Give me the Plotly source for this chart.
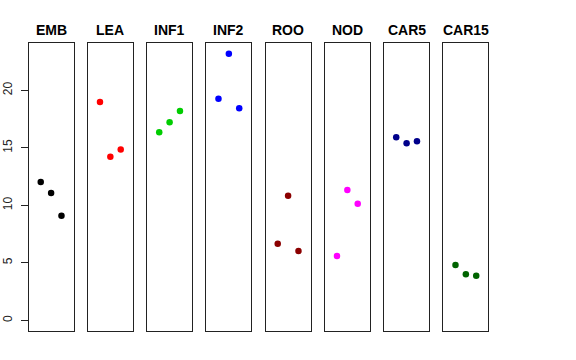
import plotly.graph_objects as go

categories = ["EMB", "LEA", "INF1", "INF2", "ROO", "NOD", "CAR5", "CAR15"]
values = [
    [12.03, 11.07, 9.10],
    [18.98, 14.23, 14.84],
    [16.35, 17.22, 18.20],
    [19.27, 23.18, 18.43],
    [6.66, 10.83, 6.03],
    [5.59, 11.33, 10.14],
    [15.91, 15.39, 15.56],
    [4.81, 4.00, 3.88],
]
colors = ["#000000", "#FF0000", "#00CD00", "#0000FF", "#8B0000", "#FF00FF", "#00008B", "#006400"]
replicates = [1, 2, 3]
y_ticks = [0, 5, 10, 15, 20]

W, H = 576, 360
ymax = max(max(v) for v in values)
yrange = [0 - 0.04 * ymax, ymax * 1.04]
xrange = [0 - 0.16, 4 + 0.16]

panel_left0 = 28.7
panel_w = 44.8
panel_step = 59.25
top_px, bot_px = 43, 331

fig = go.Figure()
font_family = "Liberation Sans, Arial, Helvetica, sans-serif"

for i, (cat, vals, col) in enumerate(zip(categories, values, colors)):
    n = i + 1
    xa = "x" if n == 1 else f"x{n}"
    ya = "y" if n == 1 else f"y{n}"
    fig.add_trace(go.Scatter(
        x=replicates, y=vals, mode="markers",
        marker=dict(color=col, size=6.5, line=dict(width=0)),
        xaxis=xa, yaxis=ya, showlegend=False, hoverinfo="skip",
    ))
    left = panel_left0 + i * panel_step
    right = left + panel_w
    dom_x = [left / W, right / W]
    dom_y = [1 - bot_px / H, 1 - top_px / H]
    fig.layout[f"xaxis{'' if n == 1 else n}"] = dict(
        domain=dom_x, range=xrange, showgrid=False, zeroline=False,
        showticklabels=False, ticks="", showline=True, mirror=True,
        linecolor="#222222", linewidth=1, anchor=ya, fixedrange=True,
        automargin=False,
    )
    ydict = dict(
        domain=dom_y, range=yrange, showgrid=False, zeroline=False,
        showline=True, mirror=True, linecolor="#222222", linewidth=1,
        anchor=xa, fixedrange=True, automargin=False,
    )
    if n == 1:
        ydict.update(
            tickvals=y_ticks, ticktext=[str(t) for t in y_ticks],
            ticks="outside", ticklen=7, tickcolor="#222222", tickwidth=1,
            tickangle=-90, ticklabelstandoff=4,
            tickfont=dict(family=font_family, size=12, color="#222222"),
        )
    else:
        ydict.update(showticklabels=False, ticks="")
    fig.layout[f"yaxis{'' if n == 1 else n}"] = ydict
    fig.add_annotation(
        text=f"<b>{cat}</b>", x=(left + right) / 2 / W, y=1 - 30 / H,
        xref="paper", yref="paper", xanchor="center", yanchor="middle",
        showarrow=False, font=dict(family=font_family, size=14, color="#000000"),
    )

fig.update_layout(
    width=W, height=H, margin=dict(l=0, r=0, t=0, b=0, autoexpand=False),
    paper_bgcolor="white", plot_bgcolor="white",
)
fig.write_html(
    "out.html",
    config={"displayModeBar": False, "staticPlot": True},
    post_script="document.body.style.margin='0';document.body.style.padding='0';",
)
